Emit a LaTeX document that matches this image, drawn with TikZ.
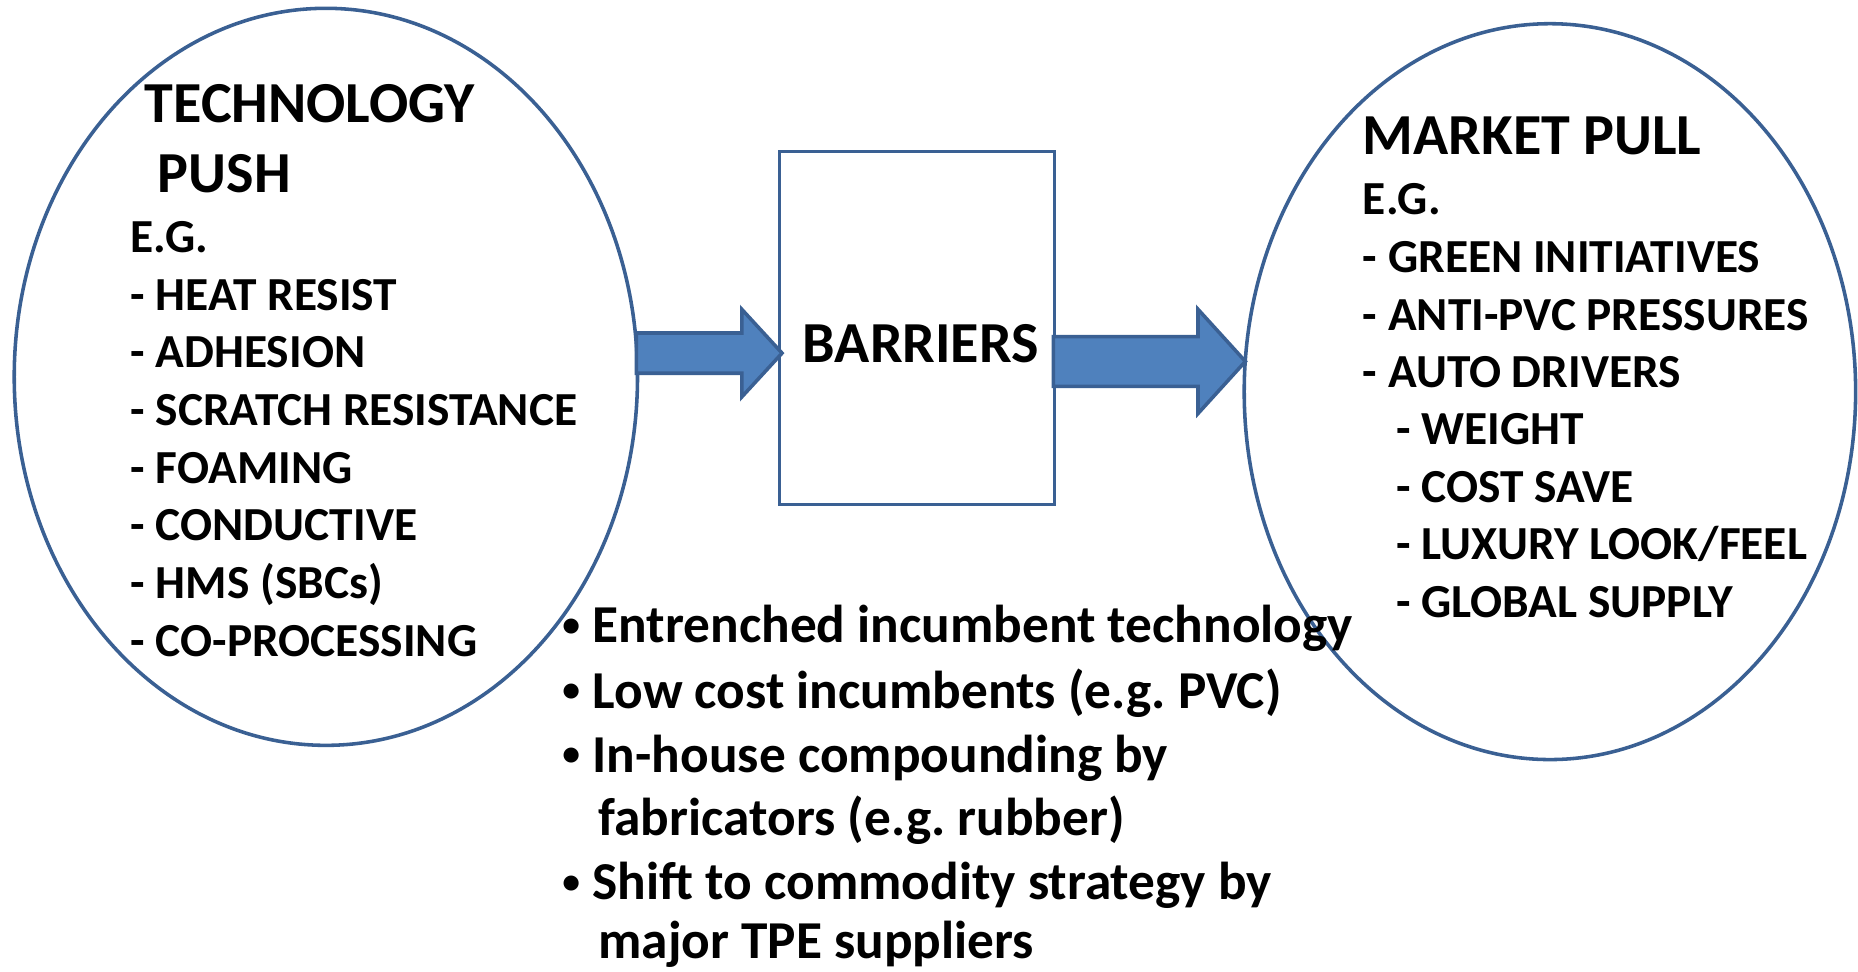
\documentclass[tikz,border=0pt]{standalone}
\usepackage{fontspec}
\setmainfont{Carlito}
\usetikzlibrary{shapes.geometric,calc}
\definecolor{rim}{HTML}{3A6093}
\definecolor{arrowfill}{HTML}{4F81BD}
\frenchspacing
\begin{document}
\begin{tikzpicture}[x=1pt,y=-1pt,
  oval/.style={ellipse, draw=rim, line width=3pt, inner sep=0pt},
  boxnode/.style={rectangle, draw=rim, line width=2.8pt, inner sep=0pt},
  blockarrow/.style={fill=arrowfill, draw=rim, line width=3pt, line join=miter},
  big/.style={font=\fontsize{49}{58}\selectfont\bfseries, anchor=base west, inner sep=0pt},
  item/.style={font=\fontsize{40}{48}\selectfont\bfseries, anchor=base west, inner sep=0pt},
  bul/.style={font=\fontsize{45}{54}\selectfont\bfseries, anchor=base west, inner sep=0pt},
  dotmark/.style={font=\fontsize{30}{36}\selectfont\bfseries, anchor=center, inner sep=0pt}]
\useasboundingbox (0,0) rectangle (1568,820);

% the two ovals and the central box
\node[oval, minimum width=526pt, minimum height=622pt] (L) at (275,318) {};
\node[oval, minimum width=516pt, minimum height=621pt] (R) at (1308,330.5) {};
\node[boxnode, minimum width=232pt, minimum height=298pt] (B) at (774,277) {};

% block arrows
\coordinate (a1s) at (537,298);
\coordinate (a1t) at (660,298);
\draw[blockarrow] ($(a1s)+(0,-17)$) -- ($(a1t)+(-34,-17)$) -- ($(a1t)+(-34,-37)$)
  -- (a1t) -- ($(a1t)+(-34,37)$) -- ($(a1t)+(-34,17)$) -- ($(a1s)+(0,17)$) -- cycle;
\coordinate (a2s) at (889,305);
\coordinate (a2t) at (1051,305);
\draw[blockarrow] ($(a2s)+(0,-21)$) -- ($(a2t)+(-40,-21)$) -- ($(a2t)+(-40,-44)$)
  -- (a2t) -- ($(a2t)+(-40,44)$) -- ($(a2t)+(-40,21)$) -- ($(a2s)+(0,21)$) -- cycle;

% box label
\node[font=\fontsize{49}{58}\selectfont\bfseries, anchor=base, inner sep=0pt] (bl) at (777,305.5) {BARRIERS};

% technology push
\node[big] (t1) at (122,103.5) {TECHNOLOGY};
\node[big] (t2) at (133,162.5) {PUSH};
\node[item] (t3) at (110,213) {E.G.};
\foreach \y/\txt [count=\i] in {261.7/HEAT RESIST, 310.4/ADHESION, 359/SCRATCH RESISTANCE,
  407.8/FOAMING, 456.5/CONDUCTIVE, 505/HMS (SBCs), 554/CO-PROCESSING}
  \node[item] (tp\i) at (110,\y) {- \txt};

% market pull
\node[big] (m1) at (1150,130) {MARKET PULL};
\node[item] (m2) at (1150,181) {E.G.};
\foreach \y/\txt [count=\i] in {230/GREEN INITIATIVES, 278.5/ANTI-PVC PRESSURES, 327/AUTO DRIVERS}
  \node[item] (mp\i) at (1150,\y) {- \txt};
\foreach \y/\txt [count=\i] in {375.5/WEIGHT, 424/COST SAVE, 472.5/{LUXURY LOOK/FEEL}, 521/GLOBAL SUPPLY}
  \node[item] (ms\i) at (1178,\y) {- \txt};

% barriers list
\foreach \y [count=\i] in {529.5, 584.4, 638.4, 746.4}
  \node[dotmark] (dot\i) at (482,\y) {•};
\node[bul] (b1) at (500,542.6) {Entrenched incumbent technology};
\node[bul] (b2) at (500,597.5) {Low cost incumbents (e.g. PVC)};
\node[bul] (b3) at (500,651.5) {In-house compounding by};
\node[bul] (b3b) at (505,705) {fabricators (e.g. rubber)};
\node[bul] (b4) at (500,759.5) {Shift to commodity strategy by};
\node[bul] (b4b) at (505,809) {major TPE suppliers};
\end{tikzpicture}
\end{document}
